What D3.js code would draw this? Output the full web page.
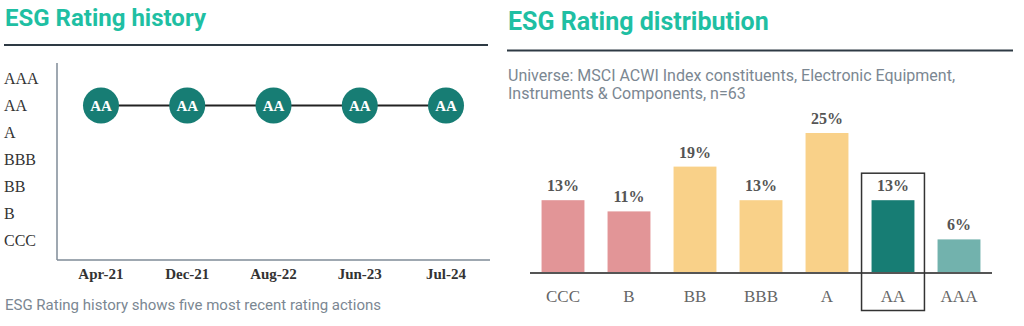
<!DOCTYPE html>
<html><head><meta charset="utf-8">
<script src="https://cdn.jsdelivr.net/npm/d3@7"></script>
<style>
html,body{margin:0;padding:0;background:#fff;}
svg{display:block;}
</style></head>
<body>
<svg id="chart" width="1024" height="326"></svg>
<script>
// ---- Data ----
const ratingScale = ["AAA","AA","A","BBB","BB","B","CCC"];
const historyDates = ["Apr-21","Dec-21","Aug-22","Jun-23","Jul-24"];
const historyRatings = ["AA","AA","AA","AA","AA"];

const distCategories = ["CCC","B","BB","BBB","A","AA","AAA"];
const distValues = [13, 11, 19, 13, 25, 13, 6];
const currentRating = "AA";

const leftTitle = "ESG Rating history";
const leftNote = "ESG Rating history shows five most recent rating actions";
const rightTitle = "ESG Rating distribution";
const rightSubtitle = ["Universe: MSCI ACWI Index constituents, Electronic Equipment,",
                       "Instruments & Components, n=63"];

// ---- Styles ----
const titleColor = "#1fbfa3";
const ruleColor = "#2e3a44";
const noteColor = "#7b8792";
const serif = "'Liberation Serif','Times New Roman',serif";
const sans = "Roboto,'Noto Sans',sans-serif";
const barColors = {CCC:"#e29597",B:"#e29597",BB:"#f9d189",BBB:"#f9d189",A:"#f9d189",AA:"#177d74",AAA:"#72b2ad"};

const svg = d3.select("#chart");

// ---- Left panel ----
svg.append("text").attr("x",5).attr("y",26).text(leftTitle)
  .attr("font-family",sans).attr("font-weight",700).attr("font-size",24).attr("fill",titleColor);
svg.append("line").attr("x1",4).attr("x2",488).attr("y1",45).attr("y2",45)
  .attr("stroke",ruleColor).attr("stroke-width",2);

const xL = d3.scalePoint().domain(historyDates).range([57,490]).padding(0.51);
const yL = d3.scalePoint().domain(ratingScale).range([78.5,240.5]);

// axes lines
svg.append("line").attr("x1",57).attr("x2",57).attr("y1",63).attr("y2",260)
  .attr("stroke","#7f8b97").attr("stroke-width",1.5);
svg.append("line").attr("x1",57).attr("x2",490).attr("y1",260).attr("y2",260)
  .attr("stroke","#7f8b97").attr("stroke-width",1.5);

svg.append("g").selectAll("text").data(ratingScale).join("text")
  .attr("x",4).attr("y",d=>yL(d)+5.5).text(d=>d)
  .attr("font-family",serif).attr("font-size",16).attr("fill","#333");

svg.append("g").selectAll("text").data(historyDates).join("text")
  .attr("x",d=>xL(d)).attr("y",279).attr("text-anchor","middle").text(d=>d)
  .attr("font-family",serif).attr("font-weight",700).attr("font-size",15).attr("fill","#333");

const pts = historyDates.map((d,i)=>({date:d, rating:historyRatings[i]}));
svg.append("path").datum(pts)
  .attr("d", d3.line().x(d=>xL(d.date)).y(d=>yL(d.rating)))
  .attr("fill","none").attr("stroke","#222").attr("stroke-width",2);
const node = svg.append("g").selectAll("g").data(pts).join("g")
  .attr("transform",d=>`translate(${xL(d.date)},${yL(d.rating)})`);
node.append("circle").attr("r",18).attr("fill","#177d74");
node.append("text").attr("text-anchor","middle").attr("y",5).text(d=>d.rating)
  .attr("font-family",serif).attr("font-weight",700).attr("font-size",15).attr("fill","#fff");

svg.append("text").attr("x",5).attr("y",310).text(leftNote)
  .attr("font-family",sans).attr("font-size",15).attr("fill",noteColor);

// ---- Right panel ----
svg.append("text").attr("x",508).attr("y",30).text(rightTitle)
  .attr("font-family",sans).attr("font-weight",700).attr("font-size",25).attr("fill",titleColor);
svg.append("line").attr("x1",507).attr("x2",1013).attr("y1",50.5).attr("y2",50.5)
  .attr("stroke",ruleColor).attr("stroke-width",2);
svg.append("g").selectAll("text").data(rightSubtitle).join("text")
  .attr("x",508).attr("y",(d,i)=>81+i*18).text(d=>d)
  .attr("font-family",sans).attr("font-size",16).attr("fill",noteColor);

const xR = d3.scaleBand().domain(distCategories).range([530,992]).paddingInner(0.35).paddingOuter(0.175);
const yR = d3.scaleLinear().domain([0,25]).range([273,133]);

svg.append("g").selectAll("rect").data(distCategories).join("rect")
  .attr("x",d=>xR(d)).attr("width",xR.bandwidth())
  .attr("y",(d,i)=>yR(distValues[i])).attr("height",(d,i)=>yR(0)-yR(distValues[i]))
  .attr("fill",d=>barColors[d]);

svg.append("line").attr("x1",530).attr("x2",992).attr("y1",yR(0)).attr("y2",yR(0))
  .attr("stroke","#555").attr("stroke-width",1.8);

svg.append("g").selectAll("text").data(distCategories).join("text")
  .attr("x",d=>xR(d)+xR.bandwidth()/2).attr("y",(d,i)=>yR(distValues[i])-9)
  .attr("text-anchor","middle").text((d,i)=>distValues[i]+"%")
  .attr("font-family",serif).attr("font-weight",700).attr("font-size",16).attr("fill","#555");

svg.append("g").selectAll("text").data(distCategories).join("text")
  .attr("x",d=>xR(d)+xR.bandwidth()/2).attr("y",302)
  .attr("text-anchor","middle").text(d=>d)
  .attr("font-family",serif).attr("font-size",17).attr("fill","#666");

// highlight box
const ci = distCategories.indexOf(currentRating);
svg.append("rect")
  .attr("x",xR(currentRating)-10).attr("width",xR.bandwidth()+20)
  .attr("y",yR(distValues[ci])-27).attr("height",310.5-(yR(distValues[ci])-27))
  .attr("fill","none").attr("stroke","#333").attr("stroke-width",1.5);
</script>
</body></html>
